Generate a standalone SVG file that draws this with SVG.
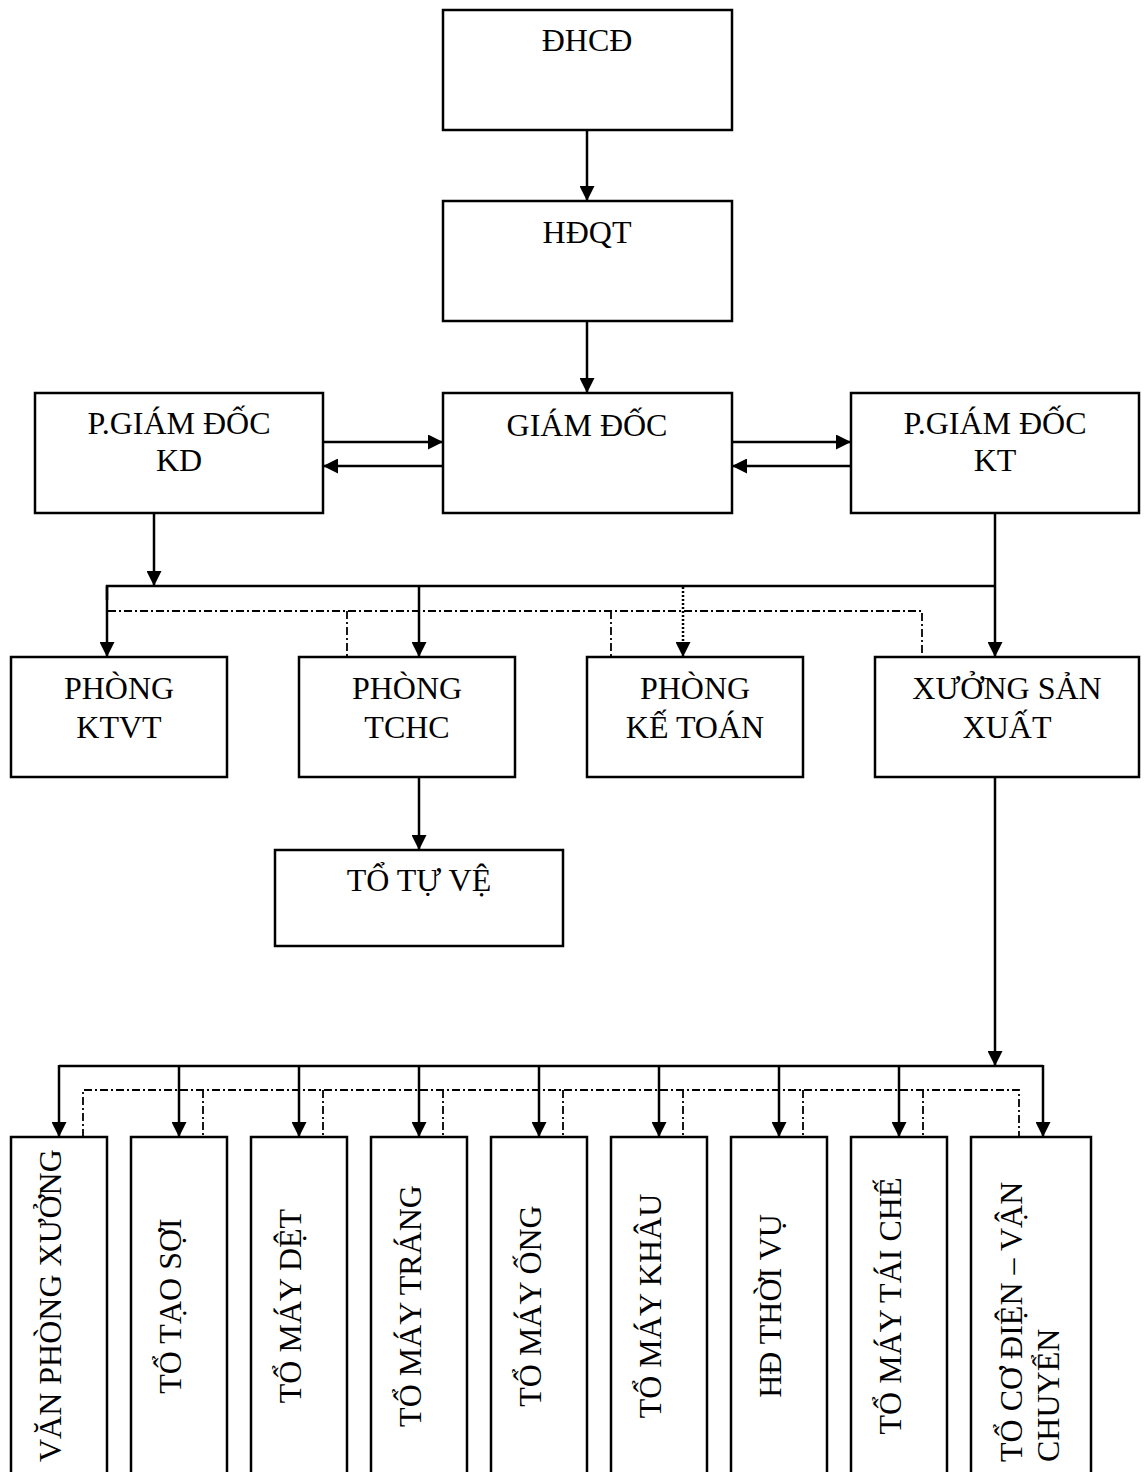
<svg xmlns="http://www.w3.org/2000/svg" width="1146" height="1472" viewBox="0 0 1146 1472">
<style>
.box{fill:#fff;stroke:#000;stroke-width:2.5}
.t{font-family:"Liberation Serif","Times New Roman",serif;font-size:32px;fill:#000;text-anchor:middle}
.ln{fill:none;stroke:#000;stroke-width:2.5}
.dd{fill:none;stroke:#000;stroke-width:1.8;stroke-dasharray:8 3 2 3}
.dt{fill:none;stroke:#000;stroke-width:2.5;stroke-dasharray:2 2}
</style>
<defs>
<marker id="ah" viewBox="0 0 10 10" refX="10" refY="5" markerWidth="16" markerHeight="15" markerUnits="userSpaceOnUse" orient="auto">
<path d="M0,0 L10,5 L0,10 z" fill="#000"/>
</marker>
</defs>
<rect width="1146" height="1472" fill="#fff"/>

<g id="connectors">
<line class="ln" x1="587" y1="130" x2="587" y2="201" marker-end="url(#ah)"/>
<line class="ln" x1="587" y1="321" x2="587" y2="393" marker-end="url(#ah)"/>
<line class="ln" x1="323" y1="442" x2="443" y2="442" marker-end="url(#ah)"/>
<line class="ln" x1="443" y1="466" x2="323" y2="466" marker-end="url(#ah)"/>
<line class="ln" x1="732" y1="442" x2="851" y2="442" marker-end="url(#ah)"/>
<line class="ln" x1="851" y1="466" x2="732" y2="466" marker-end="url(#ah)"/>
<line class="ln" x1="154" y1="513" x2="154" y2="586" marker-end="url(#ah)"/>
<polyline class="ln" points="107,600 107,586 995,586"/>
<line class="ln" x1="107" y1="586" x2="107" y2="657" marker-end="url(#ah)"/>
<line class="ln" x1="419" y1="586" x2="419" y2="657" marker-end="url(#ah)"/>
<line class="ln" x1="995" y1="513" x2="995" y2="657" marker-end="url(#ah)"/>
<line class="dt" x1="683" y1="587" x2="683" y2="657" marker-end="url(#ah)"/>
<polyline class="dd" points="108,611 922,611 922,657"/>
<line class="dd" x1="347" y1="611" x2="347" y2="657"/>
<line class="dd" x1="611" y1="611" x2="611" y2="657"/>
<line class="ln" x1="419" y1="777" x2="419" y2="850" marker-end="url(#ah)"/>
<line class="ln" x1="995" y1="777" x2="995" y2="1066" marker-end="url(#ah)"/>
<polyline class="ln" points="59,1066 1043,1066"/>
<line class="ln" x1="59" y1="1065" x2="59" y2="1137" marker-end="url(#ah)"/>
<line class="ln" x1="179" y1="1066" x2="179" y2="1137" marker-end="url(#ah)"/>
<line class="ln" x1="299" y1="1066" x2="299" y2="1137" marker-end="url(#ah)"/>
<line class="ln" x1="419" y1="1066" x2="419" y2="1137" marker-end="url(#ah)"/>
<line class="ln" x1="539" y1="1066" x2="539" y2="1137" marker-end="url(#ah)"/>
<line class="ln" x1="659" y1="1066" x2="659" y2="1137" marker-end="url(#ah)"/>
<line class="ln" x1="779" y1="1066" x2="779" y2="1137" marker-end="url(#ah)"/>
<line class="ln" x1="899" y1="1066" x2="899" y2="1137" marker-end="url(#ah)"/>
<line class="ln" x1="1043" y1="1065" x2="1043" y2="1137" marker-end="url(#ah)"/>
<polyline class="dd" points="83,1137 83,1090 1019,1090 1019,1137"/>
<line class="dd" x1="203" y1="1090" x2="203" y2="1137"/>
<line class="dd" x1="323" y1="1090" x2="323" y2="1137"/>
<line class="dd" x1="443" y1="1090" x2="443" y2="1137"/>
<line class="dd" x1="563" y1="1090" x2="563" y2="1137"/>
<line class="dd" x1="683" y1="1090" x2="683" y2="1137"/>
<line class="dd" x1="803" y1="1090" x2="803" y2="1137"/>
<line class="dd" x1="923" y1="1090" x2="923" y2="1137"/>
</g>

<g id="n-dhcd"><rect class="box" x="443" y="10" width="289" height="120"/><text class="t" x="587" y="51">ĐHCĐ</text></g>
<g id="n-hdqt"><rect class="box" x="443" y="201" width="289" height="120"/><text class="t" x="587" y="243">HĐQT</text></g>
<g id="n-gd"><rect class="box" x="443" y="393" width="289" height="120"/><text class="t" x="587" y="436">GIÁM ĐỐC</text></g>
<g id="n-pgd-kd"><rect class="box" x="35" y="393" width="288" height="120"/><text class="t" x="179" y="434">P.GIÁM ĐỐC</text><text class="t" x="179" y="471">KD</text></g>
<g id="n-pgd-kt"><rect class="box" x="851" y="393" width="288" height="120"/><text class="t" x="995" y="434">P.GIÁM ĐỐC</text><text class="t" x="995" y="471">KT</text></g>

<g id="n-ktvt"><rect class="box" x="11" y="657" width="216" height="120"/><text class="t" x="119" y="699">PHÒNG</text><text class="t" x="119" y="738">KTVT</text></g>
<g id="n-tchc"><rect class="box" x="299" y="657" width="216" height="120"/><text class="t" x="407" y="699">PHÒNG</text><text class="t" x="407" y="738">TCHC</text></g>
<g id="n-ketoan"><rect class="box" x="587" y="657" width="216" height="120"/><text class="t" x="695" y="699">PHÒNG</text><text class="t" x="695" y="738">KẾ TOÁN</text></g>
<g id="n-xuong"><rect class="box" x="875" y="657" width="264" height="120"/><text class="t" x="1007" y="699">XƯỞNG SẢN</text><text class="t" x="1007" y="738">XUẤT</text></g>
<g id="n-totuve"><rect class="box" x="275" y="850" width="288" height="96"/><text class="t" x="419" y="891">TỔ TỰ VỆ</text></g>

<g id="n-vpx"><rect class="box" x="11" y="1137" width="96" height="400"/><text class="t" style="text-anchor:start" transform="translate(61,1462) rotate(-90)">VĂN PHÒNG XƯỞNG</text></g>
<g id="n-taosoi"><rect class="box" x="131" y="1137" width="96" height="400"/><text class="t" transform="translate(181,1306) rotate(-90)">TỔ TẠO SỢI</text></g>
<g id="n-det"><rect class="box" x="251" y="1137" width="96" height="400"/><text class="t" transform="translate(301,1306) rotate(-90)">TỔ MÁY DỆT</text></g>
<g id="n-trang"><rect class="box" x="371" y="1137" width="96" height="400"/><text class="t" transform="translate(421,1306) rotate(-90)">TỔ MÁY TRÁNG</text></g>
<g id="n-ong"><rect class="box" x="491" y="1137" width="96" height="400"/><text class="t" transform="translate(541,1306) rotate(-90)">TỔ MÁY ỐNG</text></g>
<g id="n-khau"><rect class="box" x="611" y="1137" width="96" height="400"/><text class="t" transform="translate(661,1306) rotate(-90)">TỔ MÁY KHÂU</text></g>
<g id="n-thoivu"><rect class="box" x="731" y="1137" width="96" height="400"/><text class="t" transform="translate(781,1306) rotate(-90)">HĐ THỜI VỤ</text></g>
<g id="n-taiche"><rect class="box" x="851" y="1137" width="96" height="400"/><text class="t" transform="translate(901,1306) rotate(-90)">TỔ MÁY TÁI CHẾ</text></g>
<g id="n-codien"><rect class="box" x="971" y="1137" width="120" height="400"/><text class="t" style="text-anchor:start" transform="translate(1022,1462) rotate(-90)">TỔ CƠ ĐIỆN – VẬN</text><text class="t" style="text-anchor:start" transform="translate(1059,1462) rotate(-90)">CHUYỂN</text></g>
</svg>
